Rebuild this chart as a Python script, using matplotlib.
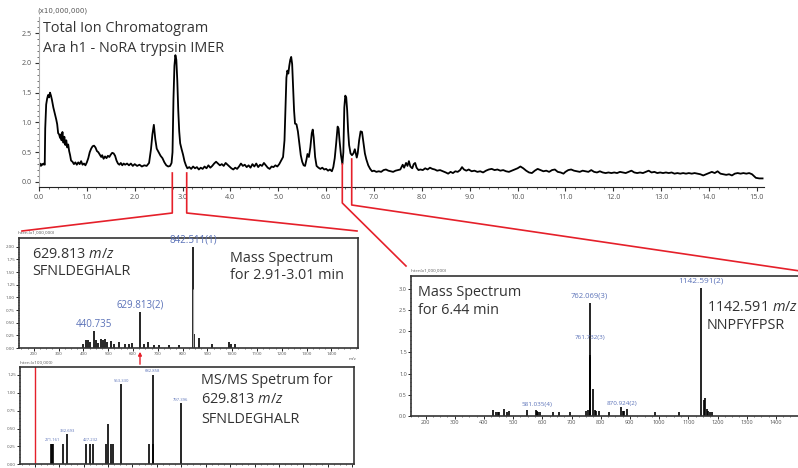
import matplotlib
matplotlib.use("Agg")
import matplotlib.pyplot as plt
from matplotlib.lines import Line2D
from matplotlib.ticker import MultipleLocator, FormatStrFormatter

plt.rcParams['font.family'] = ['Open Sans', 'DejaVu Sans']
plt.rcParams['mathtext.fontset'] = 'custom'
plt.rcParams['mathtext.rm'] = 'Open Sans'
plt.rcParams['mathtext.it'] = 'Open Sans:italic'

# total ion chromatogram (time in min, intensity x10,000,000)
tic_time = [0.00, 0.02, 0.04, 0.06, 0.08, 0.10, 0.12, 0.13, 0.15, 0.17, 0.19, 0.21, 0.23, 0.25, 0.27,
            0.30, 0.33, 0.36, 0.38, 0.40, 0.42, 0.44, 0.46, 0.47, 0.49, 0.51, 0.53, 0.55, 0.57, 0.59,
            0.61, 0.63, 0.65, 0.67, 0.70, 0.73, 0.76, 0.79, 0.82, 0.85, 0.88, 0.91, 0.94, 0.97, 1.00,
            1.03, 1.06, 1.09, 1.12, 1.15, 1.18, 1.21, 1.24, 1.27, 1.30, 1.32, 1.35, 1.38, 1.41, 1.44,
            1.47, 1.50, 1.53, 1.56, 1.59, 1.62, 1.65, 1.68, 1.71, 1.74, 1.77, 1.80, 1.84, 1.88, 1.92,
            1.96, 2.00, 2.05, 2.10, 2.15, 2.20, 2.25, 2.30, 2.34, 2.37, 2.40, 2.43, 2.46, 2.50, 2.54,
            2.58, 2.62, 2.66, 2.70, 2.74, 2.77, 2.79, 2.81, 2.83, 2.85, 2.87, 2.89, 2.91, 2.93, 2.95,
            2.98, 3.01, 3.04, 3.07, 3.10, 3.14, 3.18, 3.22, 3.26, 3.30, 3.34, 3.38, 3.42, 3.46, 3.50,
            3.54, 3.58, 3.62, 3.66, 3.70, 3.74, 3.78, 3.82, 3.86, 3.90, 3.94, 3.98, 4.02, 4.06, 4.10,
            4.14, 4.18, 4.22, 4.26, 4.30, 4.34, 4.38, 4.42, 4.46, 4.50, 4.54, 4.58, 4.62, 4.66, 4.70,
            4.74, 4.78, 4.82, 4.86, 4.90, 4.94, 4.98, 5.02, 5.06, 5.10, 5.13, 5.15, 5.17, 5.19, 5.21,
            5.23, 5.25, 5.27, 5.29, 5.31, 5.33, 5.35, 5.38, 5.41, 5.44, 5.47, 5.50, 5.53, 5.56, 5.59,
            5.61, 5.64, 5.67, 5.70, 5.72, 5.74, 5.77, 5.80, 5.84, 5.88, 5.92, 5.96, 6.00, 6.04, 6.08,
            6.12, 6.15, 6.18, 6.21, 6.24, 6.26, 6.28, 6.31, 6.34, 6.36, 6.38, 6.40, 6.42, 6.44, 6.46,
            6.48, 6.51, 6.54, 6.57, 6.60, 6.62, 6.64, 6.66, 6.69, 6.72, 6.75, 6.78, 6.81, 6.84, 6.88,
            6.92, 6.96, 7.00, 7.05, 7.10, 7.15, 7.20, 7.25, 7.30, 7.35, 7.40, 7.45, 7.50, 7.55, 7.60,
            7.63, 7.67, 7.70, 7.73, 7.76, 7.80, 7.83, 7.86, 7.89, 7.93, 7.97, 8.02, 8.07, 8.12, 8.17,
            8.22, 8.27, 8.32, 8.38, 8.44, 8.50, 8.55, 8.60, 8.65, 8.70, 8.75, 8.80, 8.84, 8.88, 8.93,
            8.98, 9.04, 9.10, 9.16, 9.22, 9.28, 9.34, 9.40, 9.46, 9.52, 9.58, 9.64, 9.70, 9.76, 9.82,
            9.88, 9.94, 10.00, 10.06, 10.12, 10.18, 10.24, 10.30, 10.36, 10.42, 10.48, 10.54, 10.60, 10.66, 10.72,
            10.78, 10.84, 10.90, 10.96, 11.00, 11.06, 11.12, 11.18, 11.24, 11.30, 11.36, 11.42, 11.48, 11.54, 11.60,
            11.66, 11.72, 11.78, 11.84, 11.90, 11.96, 12.02, 12.08, 12.14, 12.20, 12.26, 12.32, 12.38, 12.44, 12.50,
            12.56, 12.62, 12.68, 12.74, 12.80, 12.86, 12.92, 12.98, 13.04, 13.10, 13.16, 13.22, 13.28, 13.34, 13.40,
            13.46, 13.52, 13.58, 13.64, 13.70, 13.76, 13.82, 13.88, 13.94, 14.00, 14.06, 14.12, 14.18, 14.24, 14.30,
            14.36, 14.42, 14.48, 14.54, 14.60, 14.66, 14.72, 14.78, 14.84, 14.90, 14.94, 14.98, 15.05, 15.12]
tic_int = [0.28, 0.31, 0.27, 0.30, 0.29, 0.31, 0.29, 0.90, 1.30, 1.40, 1.46, 1.42, 1.50, 1.45, 1.38,
           1.25, 1.15, 1.05, 0.97, 0.82, 0.80, 0.74, 0.80, 0.70, 0.84, 0.66, 0.76, 0.62, 0.70, 0.58,
           0.63, 0.52, 0.45, 0.36, 0.34, 0.30, 0.33, 0.29, 0.33, 0.30, 0.35, 0.29, 0.31, 0.28, 0.33,
           0.40, 0.50, 0.56, 0.60, 0.61, 0.58, 0.52, 0.50, 0.46, 0.42, 0.45, 0.39, 0.43, 0.40, 0.44,
           0.42, 0.46, 0.49, 0.48, 0.44, 0.36, 0.31, 0.29, 0.32, 0.28, 0.31, 0.29, 0.31, 0.28, 0.31,
           0.27, 0.30, 0.27, 0.29, 0.26, 0.28, 0.27, 0.32, 0.55, 0.80, 0.96, 0.72, 0.56, 0.50, 0.44,
           0.40, 0.33, 0.28, 0.26, 0.27, 0.32, 0.50, 1.40, 1.95, 2.13, 2.05, 1.70, 1.20, 0.85, 0.65,
           0.55, 0.46, 0.35, 0.28, 0.23, 0.25, 0.22, 0.26, 0.23, 0.25, 0.21, 0.24, 0.22, 0.26, 0.23,
           0.28, 0.24, 0.27, 0.31, 0.34, 0.31, 0.28, 0.30, 0.27, 0.32, 0.29, 0.26, 0.23, 0.21, 0.24,
           0.22, 0.26, 0.31, 0.27, 0.29, 0.25, 0.28, 0.24, 0.30, 0.26, 0.31, 0.25, 0.29, 0.27, 0.32,
           0.28, 0.24, 0.22, 0.26, 0.25, 0.28, 0.26, 0.30, 0.36, 0.42, 0.70, 1.25, 1.75, 1.87, 1.82,
           1.95, 2.05, 2.10, 1.98, 1.60, 1.20, 0.98, 0.97, 0.85, 0.65, 0.45, 0.34, 0.28, 0.27, 0.38,
           0.47, 0.42, 0.58, 0.82, 0.88, 0.75, 0.42, 0.27, 0.24, 0.22, 0.24, 0.21, 0.22, 0.19, 0.21,
           0.18, 0.25, 0.40, 0.65, 0.93, 0.90, 0.70, 0.45, 0.30, 0.50, 1.25, 1.45, 1.42, 1.20, 0.85,
           0.62, 0.48, 0.45, 0.48, 0.55, 0.48, 0.41, 0.48, 0.70, 0.85, 0.84, 0.66, 0.48, 0.38, 0.28,
           0.22, 0.18, 0.19, 0.17, 0.18, 0.17, 0.20, 0.21, 0.19, 0.18, 0.17, 0.19, 0.20, 0.21, 0.29,
           0.24, 0.32, 0.27, 0.35, 0.26, 0.23, 0.30, 0.32, 0.24, 0.20, 0.21, 0.20, 0.23, 0.21, 0.24,
           0.22, 0.21, 0.19, 0.20, 0.18, 0.16, 0.14, 0.17, 0.15, 0.18, 0.17, 0.20, 0.25, 0.21, 0.19,
           0.21, 0.18, 0.19, 0.17, 0.18, 0.16, 0.19, 0.21, 0.22, 0.20, 0.21, 0.19, 0.20, 0.18, 0.17,
           0.19, 0.21, 0.23, 0.26, 0.23, 0.19, 0.16, 0.15, 0.19, 0.22, 0.20, 0.18, 0.19, 0.17, 0.20,
           0.21, 0.17, 0.16, 0.14, 0.17, 0.20, 0.21, 0.19, 0.18, 0.17, 0.19, 0.18, 0.17, 0.20, 0.17,
           0.16, 0.18, 0.16, 0.15, 0.16, 0.15, 0.16, 0.15, 0.17, 0.16, 0.15, 0.17, 0.19, 0.16, 0.15,
           0.16, 0.15, 0.17, 0.19, 0.16, 0.17, 0.15, 0.16, 0.15, 0.16, 0.15, 0.16, 0.14, 0.15, 0.14,
           0.15, 0.14, 0.15, 0.14, 0.15, 0.14, 0.13, 0.11, 0.13, 0.15, 0.17, 0.15, 0.18, 0.14, 0.13,
           0.12, 0.13, 0.11, 0.14, 0.15, 0.14, 0.15, 0.14, 0.15, 0.13, 0.10, 0.07, 0.06, 0.06]

# mass spectrum 2.91-3.01 min (m/z, intensity x1,000,000)
ms1_mz = [400, 409, 418, 426, 440.735, 449, 460, 469, 479, 487, 496, 510, 523, 543, 566, 583, 594,
          629.813, 643, 661, 684, 704, 744, 784, 842.511, 847, 867, 920, 988, 993, 1012]
ms1_int = [0.08, 0.15, 0.16, 0.11, 0.33, 0.15, 0.10, 0.17, 0.15, 0.18, 0.11, 0.13, 0.08, 0.11, 0.07, 0.08, 0.10,
           0.72, 0.07, 0.11, 0.05, 0.06, 0.05, 0.06, 2.00, 0.28, 0.19, 0.08, 0.11, 0.08, 0.07]
ms1_iso_mz = [843.0]
ms1_iso_int = [1.17]
ms1_labels = [(842.511, "842.511(1)"), (629.813, "629.813(2)"), (440.735, "440.735")]

# MS/MS of 629.813 (m/z, intensity x100,000)
ms2_mz = [268, 271.161, 274, 316, 332.693, 412, 427.232, 440, 494, 499, 511, 519, 553.330, 666, 682.858, 686, 797.396]
ms2_int = [0.29, 0.29, 0.29, 0.29, 0.42, 0.29, 0.29, 0.29, 0.29, 0.56, 0.29, 0.29, 1.12, 0.29, 1.25, 0.29, 0.85]
ms2_labels = [(271.161, "271.161"), (332.693, "332.693"), (427.232, "427.232"),
              (553.330, "553.330"), (682.858, "682.858"), (797.396, "797.396")]
ms2_marker = 200

# mass spectrum 6.44 min (m/z, intensity x1,000,000)
ms3_mz = [431, 442, 448, 453, 468, 479, 486, 547, 579.5, 581.035, 585, 591, 636, 657, 696, 751, 756,
          761.732, 762.069, 762.4, 773.5, 779, 785, 793, 827, 870.924, 876, 881, 890, 987, 1068,
          1142.591, 1153, 1158.6, 1164, 1169, 1175, 1180]
ms3_int = [0.13, 0.09, 0.09, 0.08, 0.16, 0.09, 0.11, 0.13, 0.13, 0.10, 0.09, 0.08, 0.08, 0.08, 0.08, 0.12, 0.13,
           1.45, 2.68, 1.40, 0.63, 0.13, 0.12, 0.10, 0.08, 0.21, 0.12, 0.10, 0.15, 0.08, 0.08,
           3.04, 0.37, 0.41, 0.17, 0.12, 0.09, 0.08]
ms3_labels = [(1142.591, "1142.591(2)", 3.12, 6.0), (762.069, "762.069(3)", 2.76, 5.5),
              (761.732, "761.732(3)", 1.80, 4.5), (581.035, "581.035(4)", 0.20, 4.5),
              (870.924, "870.924(2)", 0.22, 4.5)]

W, H = 798, 468
RED = '#e5202a'
BLUE = '#5b72b8'
TXT = '#333333'
TICK = '#555555'
BIG = 10.4


def box(x0, y0, x1, y1):
    return [x0 / W, 1 - y1 / H, (x1 - x0) / W, (y1 - y0) / H]


def fx(x):
    return x / W


def fy(y):
    return 1 - y / H


fig = plt.figure(figsize=(W / 100, H / 100), dpi=100)

# ---- main chromatogram
ax = fig.add_axes(box(39, 17, 764, 187))
ax.plot(tic_time, tic_int, color='black', lw=1.3)
ax.set_xlim(0, 15.15)
ax.set_ylim(-0.084, 2.77)
for s in ['top', 'right']:
    ax.spines[s].set_visible(False)
ax.spines['bottom'].set_color('#222222')
ax.spines['left'].set_color('#aaaaaa')
ax.spines['left'].set_linestyle((0, (1, 1)))
ax.xaxis.set_major_locator(MultipleLocator(1.0))
ax.xaxis.set_minor_locator(MultipleLocator(0.2))
ax.yaxis.set_major_locator(MultipleLocator(0.5))
ax.yaxis.set_minor_locator(MultipleLocator(0.1))
ax.xaxis.set_major_formatter(FormatStrFormatter('%.1f'))
ax.yaxis.set_major_formatter(FormatStrFormatter('%.1f'))
ax.tick_params(which='major', length=3, width=0.8, labelsize=5.2, labelcolor=TICK, color='#333333', pad=2)
ax.tick_params(which='minor', length=1.5, width=0.6, color='#555555')
fig.text(fx(37), fy(13), "(x10,000,000)", fontsize=5, color=TICK, va='baseline', family='DejaVu Sans')
fig.text(fx(43), fy(32.3), "Total Ion Chromatogram", fontsize=BIG, color=TXT, va='baseline')
fig.text(fx(43), fy(51.7), "Ara h1 - NoRA trypsin IMER", fontsize=BIG, color=TXT, va='baseline')


def style_inset(a, ylab, yfmt, lsize):
    for s in a.spines.values():
        s.set_color('#333333')
        s.set_linewidth(1.2)
    a.xaxis.set_major_locator(MultipleLocator(100))
    a.xaxis.set_minor_locator(MultipleLocator(25))
    a.yaxis.set_major_locator(MultipleLocator(ylab))
    a.yaxis.set_minor_locator(MultipleLocator(ylab / 5))
    a.yaxis.set_major_formatter(FormatStrFormatter(yfmt))
    a.tick_params(which='major', length=2, width=0.6, labelsize=lsize, labelcolor=TICK, pad=1)
    a.tick_params(which='minor', length=1, width=0.4)
    a.set_facecolor('white')


# ---- inset 1: mass spectrum 2.91-3.01 min
ax1 = fig.add_axes(box(19, 237.7, 358, 348))
ax1.vlines(ms1_mz, 0, ms1_int, color='black', lw=1.2)
ax1.vlines(ms1_iso_mz, 0, ms1_iso_int, color='#aaaaaa', lw=0.8)
ax1.set_xlim(140, 1507)
ax1.set_ylim(0, 2.18)
style_inset(ax1, 0.25, '%.2f', 3.2)
ax1.set_xticks(list(range(200, 1500, 100)))
ax1.text(1468, -0.17, "m/z", fontsize=3.2, color=TICK, ha='left', va='top')
for m, lab in ms1_labels:
    h = ms1_int[ms1_mz.index(m)]
    ax1.text(m, h + 0.02, lab, fontsize=7, color=BLUE, ha='center', va='bottom')
fig.text(fx(18), fy(233.5), "Inten.(x1,000,000)", fontsize=3.2, color=TICK, va='baseline')
fig.text(fx(32.3), fy(258.3), r"629.813 $\mathit{m/z}$", fontsize=BIG, color=TXT, va='baseline')
fig.text(fx(32.3), fy(275), "SFNLDEGHALR", fontsize=BIG, color=TXT, va='baseline')
fig.text(fx(230), fy(261.7), "Mass Spectrum", fontsize=BIG, color=TXT, va='baseline')
fig.text(fx(230), fy(279), "for 2.91-3.01 min", fontsize=BIG, color=TXT, va='baseline')

# ---- inset 2: MS/MS
ax2 = fig.add_axes(box(20, 367, 354, 464.3))
ax2.vlines(ms2_mz, 0, ms2_int, color='black', lw=1.2)
ax2.axvline(ms2_marker, color=RED, lw=1.0)
ax2.set_xlim(140, 1507)
ax2.set_ylim(0, 1.36)
style_inset(ax2, 0.25, '%.2f', 3.2)
ax2.tick_params(labelbottom=False)
for m, lab in ms2_labels:
    h = ms2_int[ms2_mz.index(m)]
    ax2.text(m, h + 0.02, lab, fontsize=3, color=BLUE, ha='center', va='bottom')
fig.text(fx(20), fy(363.5), "Inten.(x100,000)", fontsize=3.2, color=TICK, va='baseline')
fig.text(fx(201), fy(384), "MS/MS Spetrum for", fontsize=BIG, color=TXT, va='baseline')
fig.text(fx(201), fy(403.3), r"629.813 $\mathit{m/z}$", fontsize=BIG, color=TXT, va='baseline')
fig.text(fx(201), fy(423.3), "SFNLDEGHALR", fontsize=BIG, color=TXT, va='baseline')

# ---- inset 3: mass spectrum 6.44 min
ax3 = fig.add_axes(box(411, 275.7, 808, 415.7))
ax3.vlines(ms3_mz, 0, ms3_int, color='black', lw=1.2)
ax3.set_xlim(150, 1510)
ax3.set_ylim(0, 3.32)
style_inset(ax3, 0.5, '%.1f', 4)
ax3.set_xticks(list(range(200, 1500, 100)))
for m, lab, yy, fs in ms3_labels:
    ax3.text(m, yy, lab, fontsize=fs, color=BLUE, ha='center', va='bottom')
fig.text(fx(411), fy(271), "Inten(x1,000,000)", fontsize=3.2, color=TICK, va='baseline')
fig.text(fx(417.7), fy(295.7), "Mass Spectrum", fontsize=BIG, color=TXT, va='baseline')
fig.text(fx(417.7), fy(314.3), "for 6.44 min", fontsize=BIG, color=TXT, va='baseline')
# the reference cuts this label at the right edge of the picture
fig.text(fx(706.7), fy(311), r"1142.591 $\mathit{m/z}$", fontsize=BIG, color=TXT, va='baseline')
fig.text(fx(706.7), fy(329), "NNPFYFPSR", fontsize=BIG, color=TXT, va='baseline')

# ---- red connector lines (pixel paths)
connectors = [
    [(172.3, 173), (172.3, 213), (22, 231)],
    [(186.7, 173), (186.7, 213), (357, 231)],
    [(342.3, 164), (342.3, 203), (406, 266)],
    [(351.7, 159), (351.7, 205), (798, 270.7)],
]
for path in connectors:
    xs = [fx(p[0]) for p in path]
    ys = [fy(p[1]) for p in path]
    fig.add_artist(Line2D(xs, ys, color=RED, lw=1.2, transform=fig.transFigure, zorder=5))

# arrow from precursor peak down to the MS/MS panel
ax.annotate('', xy=(140, H - 349), xytext=(140, H - 367), xycoords='figure pixels',
            textcoords='figure pixels', annotation_clip=False,
            arrowprops=dict(arrowstyle='-|>', color=RED, lw=1.0, mutation_scale=5))

fig.savefig("out.png", dpi=100)
